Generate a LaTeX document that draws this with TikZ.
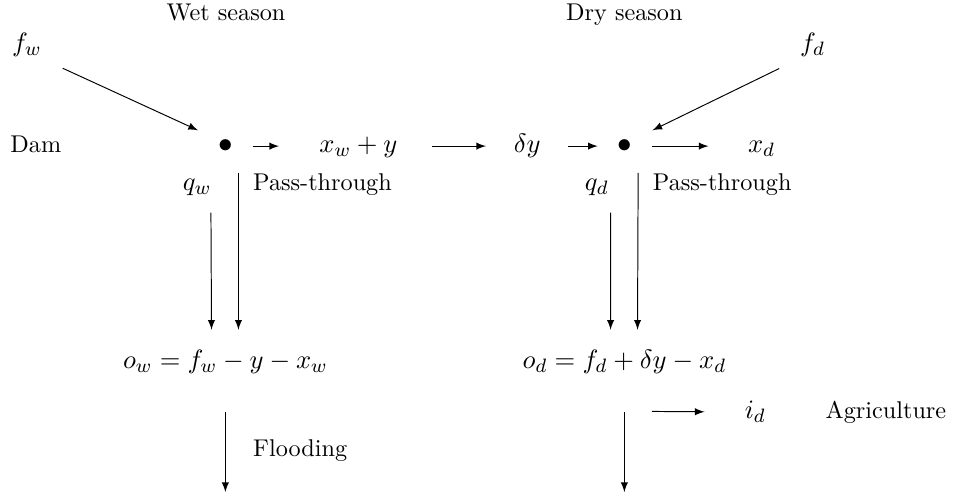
\documentclass[tikz,border=0pt]{standalone}
\usepackage{amsmath,amssymb}
\usepackage{tikz}
\usetikzlibrary{arrows.meta,positioning}

\begin{document}
\begin{tikzpicture}[scale=1.0,
    lbl/.style={text height=1.5ex, text depth=.25ex},
    mth/.style={font=\fontsize{11}{13}\selectfont},
    junc/.style={minimum width=0.78cm, minimum height=0.76cm, inner sep=0pt, font=\large},
    flow/.style={-latex}]
    \useasboundingbox (0,0) rectangle (13.93,-7.21);
    % season headings and inflows
    \node[lbl] (wet) at (3.28,-0.20) {Wet season};
    \node[lbl] (dry) at (9.06,-0.20) {Dry season};
    \node[lbl, mth] (fw) at (0.39,-0.65) {$f_w$};
    \node[lbl, mth] (fd) at (11.79,-0.65) {$f_d$};
    % main row
    \node[lbl] (dam) at (0.52,-2.12) {Dam};
    \node[junc] (dotw) at (3.27,-2.12) {$\bullet$};
    \node[lbl, mth] (xwy) at (5.20,-2.12) {$x_w+y$};
    \node[lbl, mth] (dy) at (7.65,-2.12) {$\delta y$};
    \node[junc] (dotd) at (9.07,-2.12) {$\bullet$};
    \node[lbl, mth] (xd) at (11.05,-2.12) {$x_d$};
    % releases
    \node[lbl, mth] (qw) at (2.86,-2.67) {$q_w$};
    \node[lbl, anchor=west] (ptw) at (3.55,-2.67) {Pass-through};
    \node[lbl, mth] (qd) at (8.66,-2.67) {$q_d$};
    \node[lbl, anchor=west] (ptd) at (9.35,-2.67) {Pass-through};
    % outflows
    \node[mth] (ow) at (3.27,-5.25) {$o_w = f_w - y - x_w$};
    \node[mth] (od) at (9.06,-5.25) {$o_d = f_d + \delta y - x_d$};
    \node[lbl, mth] (id) at (10.96,-5.98) {$i_d$};
    \node[lbl, right=0.62cm of id] (agri) {Agriculture};
    \coordinate (odtap) at (9.46,-5.97);
    \coordinate (wend) at (3.27,-7.14);
    \coordinate (dend) at (9.06,-7.14);

    \draw[flow, shorten <=0.2cm] (fw.south east) -- (dotw.150);
    \draw[flow, shorten <=0.2cm] (fd.south west) -- (dotd.30);
    \draw[flow, shorten >=0.46cm] (dotw) -- (xwy);
    \draw[flow, shorten <=0.38cm, shorten >=0.28cm] (xwy) -- (dy);
    \draw[flow, shorten <=0.28cm] (dy) -- (dotd);
    \draw[flow, shorten >=0.45cm] (dotd) -- (xd);

    \draw[flow, shorten <=0.16cm, shorten >=0.17cm] ([xshift=0.2cm]qw.south) -- ([xshift=-0.2cm]ow.north);
    \draw[flow, shorten >=0.17cm] ([xshift=0.19cm]dotw.south) -- ([xshift=0.19cm]ow.north);
    \draw[flow, shorten <=0.16cm, shorten >=0.17cm] ([xshift=0.2cm]qd.south) -- ([xshift=-0.2cm]od.north);
    \draw[flow, shorten >=0.17cm] ([xshift=0.19cm]dotd.south) -- ([xshift=0.19cm]od.north);

    \draw[flow, shorten <=0.44cm] (ow) -- (wend)
      node[pos=0.62, right=0.28cm, lbl] (flood) {Flooding};
    \draw[flow, shorten <=0.44cm] (od) -- (dend);
    \draw[flow, shorten >=0.46cm] (odtap) -- (id);
  \end{tikzpicture}
\end{document}
